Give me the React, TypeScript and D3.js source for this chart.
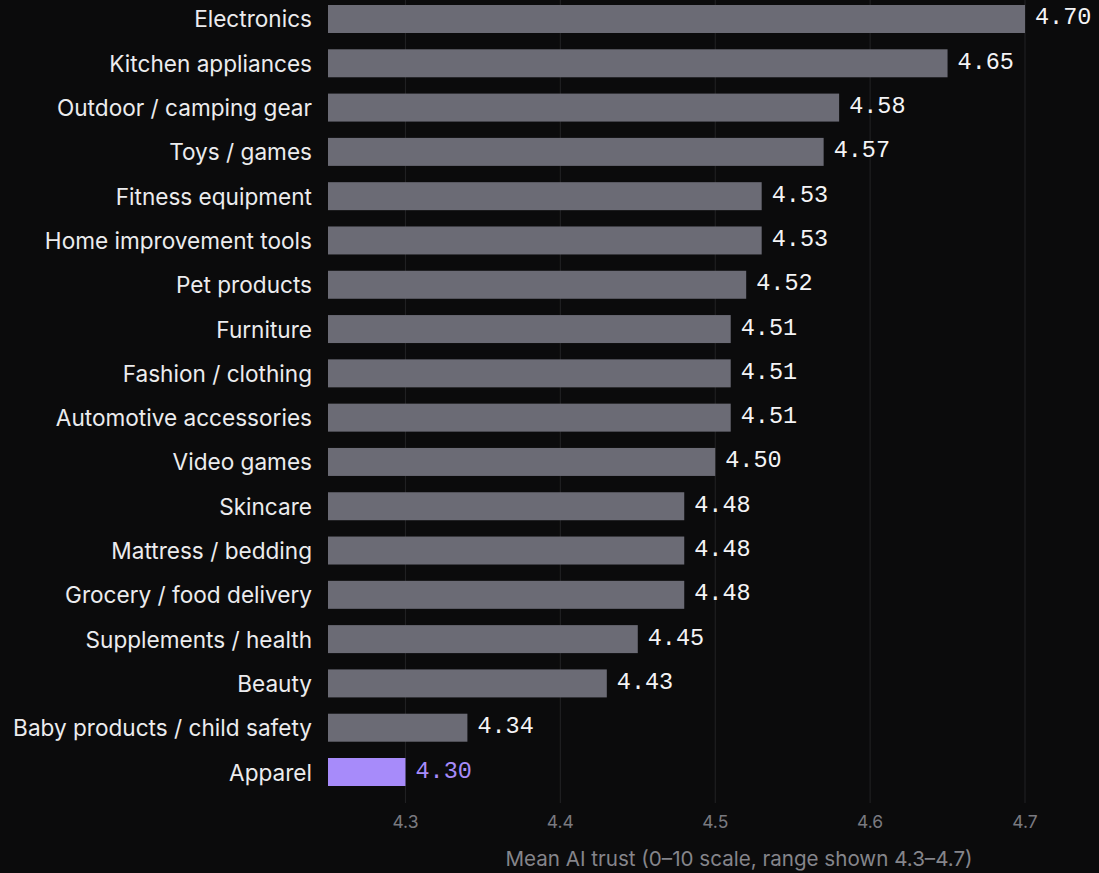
import React from "react";
import * as d3 from "d3";

const categories = [
  "Electronics",
  "Kitchen appliances",
  "Outdoor / camping gear",
  "Toys / games",
  "Fitness equipment",
  "Home improvement tools",
  "Pet products",
  "Furniture",
  "Fashion / clothing",
  "Automotive accessories",
  "Video games",
  "Skincare",
  "Mattress / bedding",
  "Grocery / food delivery",
  "Supplements / health",
  "Beauty",
  "Baby products / child safety",
  "Apparel",
];
const values = [4.7, 4.65, 4.58, 4.57, 4.53, 4.53, 4.52, 4.51, 4.51, 4.51, 4.5, 4.48, 4.48, 4.48, 4.45, 4.43, 4.34, 4.3];
const highlight = "Apparel";
const ticks = [4.3, 4.4, 4.5, 4.6, 4.7];
const axisTitle = "Mean AI trust (0–10 scale, range shown 4.3–4.7)";

const W = 1099;
const H = 873;
const SANS = "Inter, 'Noto Sans', sans-serif";

export default function App() {
  const x = d3.scaleLinear().domain([4.25, 4.7]).range([328, 1025]);
  const y = d3
    .scaleBand<string>()
    .domain(categories)
    .range([-3.15, 794.15])
    .paddingInner(0.368)
    .paddingOuter(0.184);
  const bw = y.bandwidth();
  return (
    <svg
      width={W}
      height={H}
      style={{ position: "absolute", left: 0, top: 0, display: "block", background: "#0b0b0c" }}
    >
      <rect x={0} y={0} width={W} height={H} fill="#0b0b0c" />
      {ticks.map((t) => (
        <g key={t}>
          <line x1={x(t)} x2={x(t)} y1={0} y2={803} stroke="#232325" strokeWidth={1} />
          <text
            x={x(t)}
            y={821}
            textAnchor="middle"
            dominantBaseline="central"
            fill="#7a7a80"
            fontFamily={SANS}
            fontSize={17.5}
          >
            {d3.format(".1f")(t)}
          </text>
        </g>
      ))}
      {categories.map((c, i) => {
        const v = values[i];
        const yc = (y(c) as number) + bw / 2;
        const hl = c === highlight;
        return (
          <g key={c}>
            <rect
              x={x.range()[0]}
              y={y(c)}
              width={x(v) - x.range()[0]}
              height={bw}
              fill={hl ? "#a78bfa" : "#6b6b75"}
            />
            <text
              x={312}
              y={yc}
              textAnchor="end"
              dominantBaseline="central"
              fill="#ececee"
              fontFamily={SANS}
              fontSize={22.6}
            >
              {c}
            </text>
            <text
              x={x(v) + 10}
              y={yc - 1}
              textAnchor="start"
              dominantBaseline="central"
              fill={hl ? "#a78bfa" : "#f4f4f6"}
              fontFamily="'Liberation Mono', 'DejaVu Sans Mono', monospace"
              fontSize={23.5}
            >
              {d3.format(".2f")(v)}
            </text>
          </g>
        );
      })}
      <text
        x={739}
        y={858}
        textAnchor="middle"
        dominantBaseline="central"
        fill="#85858b"
        fontFamily={SANS}
        fontSize={20.6}
      >
        {axisTitle}
      </text>
    </svg>
  );
}
